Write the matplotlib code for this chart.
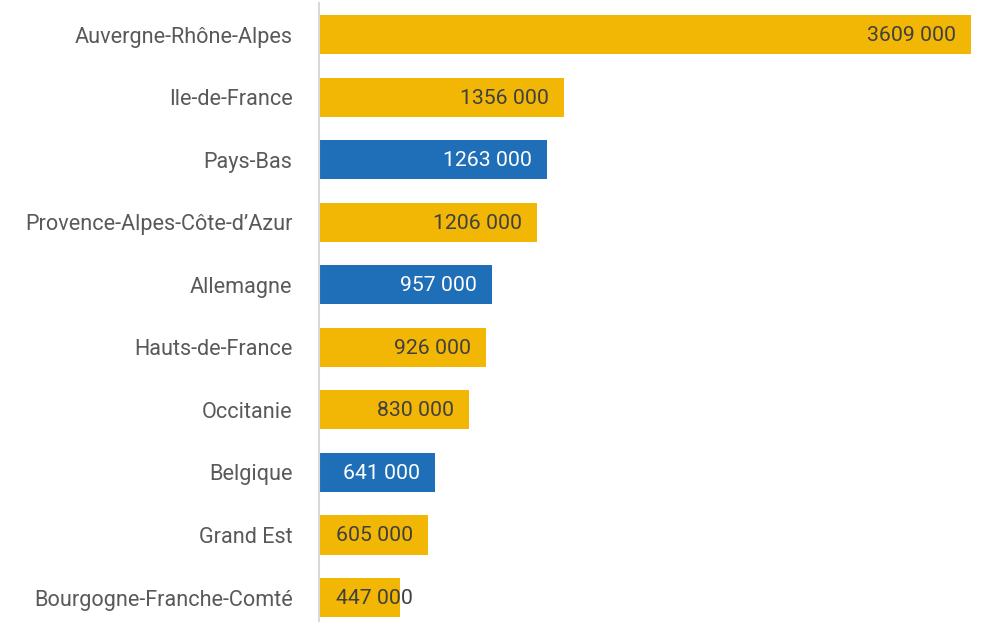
import matplotlib
matplotlib.use("Agg")
import matplotlib.pyplot as plt

# data (top to bottom)
regions = ["Auvergne-Rhône-Alpes", "Ile-de-France", "Pays-Bas",
           "Provence-Alpes-Côte-d\u2019Azur", "Allemagne", "Hauts-de-France",
           "Occitanie", "Belgique", "Grand Est", "Bourgogne-Franche-Comté"]
visitors = [3609000, 1356000, 1263000, 1206000, 957000, 926000,
            830000, 641000, 605000, 447000]
is_foreign = [False, False, True, False, True, False, False, True, False, False]

yellow = "#F2B705"
blue = "#1F6EB8"
plt.rcParams['font.family'] = ['Roboto', 'DejaVu Sans']

fig = plt.figure(figsize=(9.82, 6.22), dpi=100)
# axes placed in pixels: left 319, right 975, top 3.3, bottom 628.8
W, H = 982, 622
ax = fig.add_axes([319 / W, (H - 628.8) / H, (975 - 319) / W, (628.8 - 3.3) / H])

y = list(range(len(regions)))
colors = [blue if f else yellow for f in is_foreign]
ax.barh(y, visitors, height=0.625, color=colors)
ax.set_ylim(len(regions) - 0.5, -0.5)
ax.set_xlim(0, 3609000 * (975 - 319) / (971 - 319))

# value labels inside the bar end (short bars get pushed right)
min_label_x = 605000
for i, v in enumerate(visitors):
    txt = f"{v // 1000} 000"
    ax.annotate(txt, xy=(max(v, min_label_x), i), xytext=(-15, -1),
                textcoords="offset pixels", ha="right", va="center",
                fontsize=15.3, color="white" if is_foreign[i] else "#404040")

ax.set_yticks(y)
ax.set_yticklabels(regions, fontsize=15.6, color="#595959")
ax.tick_params(axis="y", length=0, pad=19)
ax.set_xticks([])
for s in ["top", "right", "bottom"]:
    ax.spines[s].set_visible(False)
ax.spines["left"].set_color("#D9D9D9")
ax.spines["left"].set_linewidth(1.5)

fig.savefig("out.png", dpi=100)
